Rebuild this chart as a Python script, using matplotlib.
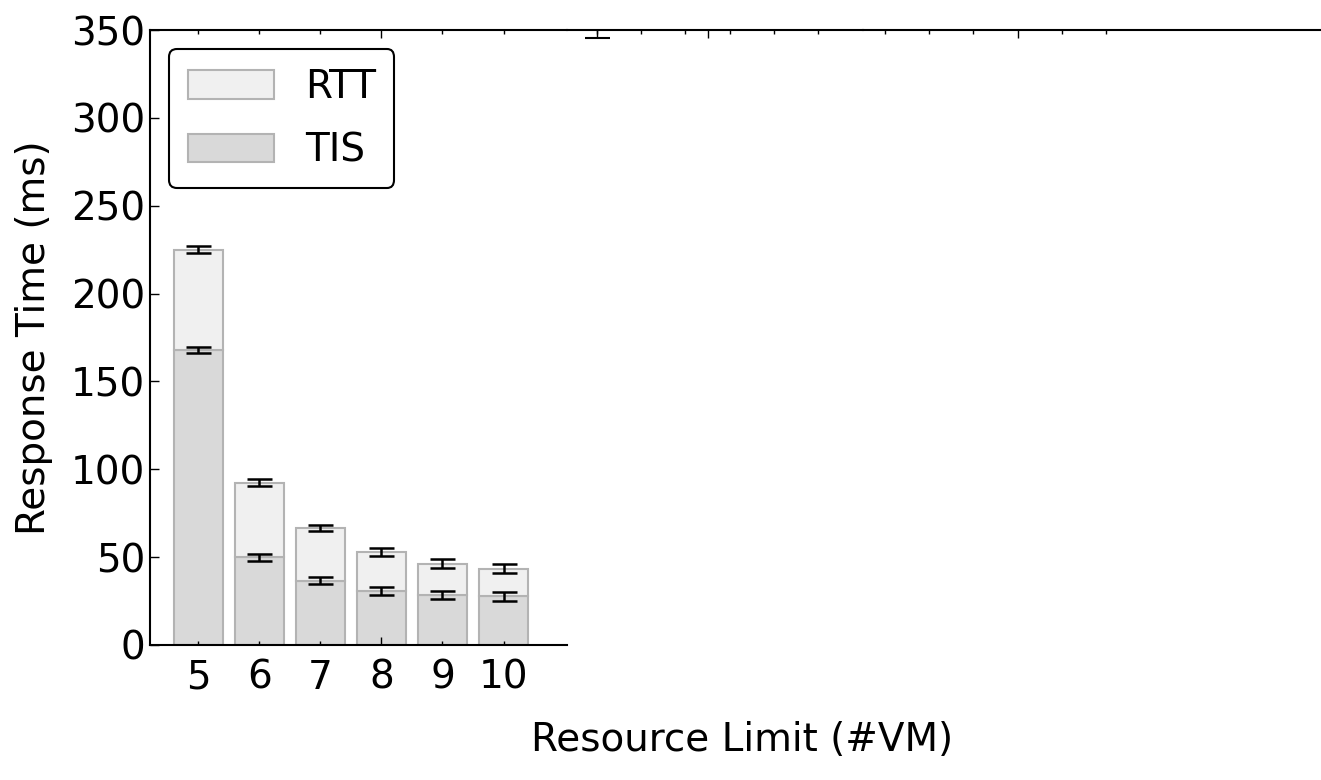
import numpy as np
import matplotlib.pyplot as plt
from matplotlib.ticker import FixedLocator, FixedFormatter

# Response time per resource limit (ms)
vm_limit = [5, 6, 7, 8, 9, 10]
tis = [168, 50, 36.5, 30.8, 28.4, 27.8]
tis_err = [1.7, 2.0, 2.0, 2.4, 2.5, 2.5]
total = [225, 92.3, 66.5, 52.9, 46.3, 43.5]
total_err = [1.8, 1.9, 1.9, 2.4, 2.6, 2.5]
rtt = [t - s for t, s in zip(total, tis)]

# stray error bar poking in below the top spine (clipped)
stray_x = [0]
stray_y = [354]
stray_err = [8.5]

W, H = 1321, 780
fig = plt.figure(figsize=(W / 100, H / 100), dpi=100)
fs = 28

def rect(x0, x1, y0=30, y1=645):
    return [x0 / W, 1 - y1 / H, (x1 - x0) / W, (y1 - y0) / H]

ax = fig.add_axes(rect(150, 567))
ax.bar(vm_limit, tis, width=0.8, color='#d9d9d9', edgecolor='#b3b3b3', linewidth=1.5, label='TIS')
ax.bar(vm_limit, rtt, width=0.8, bottom=tis, color='#f0f0f0', edgecolor='#b3b3b3', linewidth=1.5, label='RTT')
eb = dict(fmt='none', ecolor='black', elinewidth=1.8, capsize=9, capthick=1.8)
ax.errorbar(vm_limit, tis, yerr=tis_err, **eb)
ax.errorbar(vm_limit, total, yerr=total_err, **eb)

ax.set_xlim(4.21, 11.04)
ax.set_ylim(0, 350)
ax.set_yticks(np.arange(0, 351, 50))
ax.xaxis.set_major_locator(FixedLocator([8]))
ax.xaxis.set_major_formatter(FixedFormatter(['8']))
minor_x = [v for v in vm_limit if v != 8]
ax.xaxis.set_minor_locator(FixedLocator(minor_x))
ax.xaxis.set_minor_formatter(FixedFormatter([str(v) for v in minor_x]))
ax.tick_params(axis='x', which='both', top=True, direction='in', labelsize=fs, pad=10)
ax.tick_params(axis='x', which='major', length=6, width=1)
ax.tick_params(axis='x', which='minor', length=3, width=1)
ax.tick_params(axis='y', direction='in', length=6.5, width=1, labelsize=fs, right=False)
ax.spines['right'].set_visible(False)
for s in ['left', 'bottom', 'top']:
    ax.spines[s].set_linewidth(1.5)
ax.set_ylabel('Response Time (ms)', fontsize=fs, labelpad=13)

h, l = ax.get_legend_handles_labels()
leg = ax.legend(h[::-1], l[::-1], loc='upper left', fontsize=fs, fancybox=True,
                handlelength=2.2, handleheight=0.75, handletextpad=0.8,
                borderpad=0.48, labelspacing=0.65, framealpha=1)
leg.get_frame().set_edgecolor('black')
leg.get_frame().set_linewidth(1.5)

# the other two panels: only their top spines survive
ax2 = fig.add_axes(rect(567, 863))
ax2.errorbar(stray_x, stray_y, yerr=stray_err, fmt='none', ecolor='black',
             elinewidth=1.0, capsize=9, capthick=1.5)
ax2.set_xlim(-0.679, 6.018)
ax2.set_ylim(0, 350)
ax2.xaxis.set_major_locator(FixedLocator([2.5]))
ax2.xaxis.set_minor_locator(FixedLocator(list(range(6))))

ax3 = fig.add_axes(rect(863, W))
ax3.set_xlim(-0.498, 9.864)
ax3.set_ylim(0, 350)
ax3.xaxis.set_major_locator(FixedLocator([3]))
ax3.xaxis.set_minor_locator(FixedLocator(list(range(6))))

for a in (ax2, ax3):
    a.patch.set_visible(False)
    for s in ['left', 'right', 'bottom']:
        a.spines[s].set_visible(False)
    a.spines['top'].set_linewidth(1.5)
    a.set_yticks([])
    a.tick_params(axis='x', which='both', bottom=False, top=True, direction='in',
                  labelbottom=False, labeltop=False)
    a.tick_params(axis='x', which='major', length=6, width=1)
    a.tick_params(axis='x', which='minor', length=3, width=1)

fig.text(742 / W, 1 - 740 / H, 'Resource Limit (#VM)', fontsize=fs, ha='center', va='center')

fig.savefig('out.png', dpi=100)
